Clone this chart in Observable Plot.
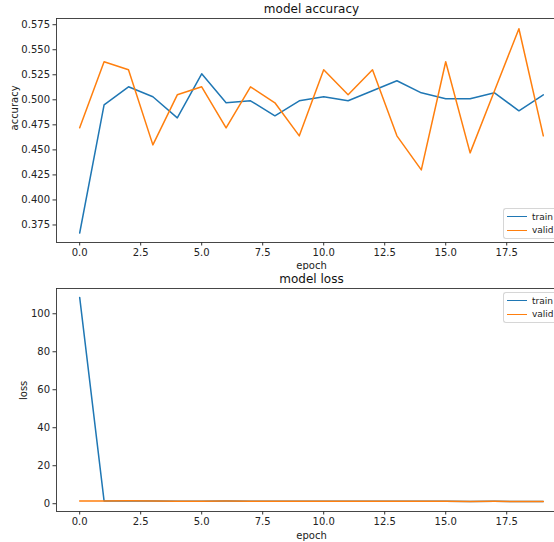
<!DOCTYPE html>
<html>
<head>
<meta charset="utf-8">
<script src="https://cdn.jsdelivr.net/npm/d3@7"></script>
<script src="https://cdn.jsdelivr.net/npm/@observablehq/plot@0.6"></script>
<style>
  html, body { margin: 0; padding: 0; background: #fff; overflow: hidden; }
  #wrap { position: relative; width: 554px; height: 542px; overflow: hidden; font-family: "DejaVu Sans", sans-serif; }
  #wrap svg.panel { position: absolute; left: 0; max-width: none !important; width: 580px !important; }
  .legend { position: absolute; background: rgba(255,255,255,0.8); border: 1px solid #d6d6d6; border-right: none; border-radius: 3px 0 0 3px; font-size: 9px; color: #222; padding: 1px 0 1px 2px; width: 51px; box-sizing: border-box; white-space: nowrap; }
  .legend .row { display: flex; align-items: center; height: 13.5px; }
  .legend .sw { width: 20px; height: 0; border-top: 1.5px solid; margin: 0 5px 0 1px; flex: none; }
</style>
</head>
<body>
<div id="wrap"></div>
<script>
const epochs = d3.range(0, 20);
const seriesNames = ["train", "valid"];
const colors = ["#1f77b4", "#ff7f0e"];
const accTrain = [0.367, 0.495, 0.513, 0.503, 0.482, 0.526, 0.497, 0.499, 0.484, 0.499,
                  0.503, 0.499, 0.509, 0.519, 0.507, 0.501, 0.501, 0.507, 0.489, 0.505];
const accValid = [0.472, 0.538, 0.530, 0.455, 0.505, 0.513, 0.472, 0.513, 0.497, 0.464,
                  0.530, 0.505, 0.530, 0.464, 0.430, 0.538, 0.447, 0.509, 0.571, 0.464];
const lossTrain = [108.6, 1.48, 1.49, 1.42, 1.36, 1.33, 1.39, 1.33, 1.31, 1.30,
                   1.27, 1.26, 1.26, 1.26, 1.29, 1.25, 1.22, 1.24, 1.20, 1.20];
const lossValid = [1.45, 1.46, 1.50, 1.42, 1.36, 1.32, 1.40, 1.33, 1.31, 1.30,
                   1.27, 1.26, 1.26, 1.26, 1.29, 1.25, 1.22, 1.24, 1.20, 1.20];
const xTicks = [0, 2.5, 5, 7.5, 10, 12.5, 15, 17.5];
const accTicks = [0.375, 0.4, 0.425, 0.45, 0.475, 0.5, 0.525, 0.55, 0.575];
const lossTicks = [0, 20, 40, 60, 80, 100];
const titles = ["model accuracy", "model loss"];
const xLabel = "epoch";
const yLabels = ["accuracy", "loss"];

function rows(a, b) {
  return [
    ...epochs.map((e, i) => ({epoch: e, value: a[i], series: seriesNames[0]})),
    ...epochs.map((e, i) => ({epoch: e, value: b[i], series: seriesNames[1]}))
  ];
}

function panel({data, yDomain, yTicks, yFormat, title, yLabel, height, marginBottom, yLabelDx, xLabelDy}) {
  return Plot.plot({
    width: 580,
    height,
    marginLeft: 56,
    marginRight: 14,
    marginTop: 18,
    marginBottom,
    style: {fontFamily: "DejaVu Sans, sans-serif", fontSize: "10px", color: "#222", background: "#fff"},
    x: {domain: [-0.95, 19.95], ticks: xTicks, tickFormat: ".1f", label: null},
    y: {domain: yDomain, ticks: yTicks, tickFormat: yFormat, label: null},
    color: {domain: seriesNames, range: colors},
    marks: [
      Plot.line(data, {x: "epoch", y: "value", z: "series", stroke: "series", strokeWidth: 1.5}),
      Plot.frame({stroke: "#333", strokeWidth: 0.9}),
      Plot.axisX({ticks: xTicks, tickFormat: ".1f", tickSize: 3.5, tickPadding: 3, label: null, stroke: "#333", fill: "#222"}),
      Plot.axisY({ticks: yTicks, tickFormat: yFormat, tickSize: 3.5, tickPadding: 3, label: null, stroke: "#333", fill: "#222"}),
      Plot.text([title], {text: d => d, frameAnchor: "top", dy: -9, fontSize: 12, fill: "#111", lineAnchor: "middle"}),
      Plot.text([xLabel], {text: d => d, frameAnchor: "bottom", dy: xLabelDy, fontSize: 10, fill: "#222", lineAnchor: "middle"}),
      Plot.text([yLabel], {text: d => d, frameAnchor: "left", dx: yLabelDx, rotate: -90, fontSize: 10, fill: "#222", lineAnchor: "middle"})
    ]
  });
}

const wrap = document.getElementById("wrap");

const top1 = panel({
  data: rows(accTrain, accValid),
  yDomain: [0.3575, 0.5812],
  yTicks: accTicks,
  yFormat: ".3f",
  title: titles[0],
  yLabel: yLabels[0],
  height: 270,
  marginBottom: 28,
  yLabelDx: -42,
  xLabelDy: 23
});
top1.classList.add("panel");
top1.style.top = "0px";
wrap.appendChild(top1);

const bot = panel({
  data: rows(lossTrain, lossValid),
  yDomain: [-4.1, 113.3],
  yTicks: lossTicks,
  yFormat: "d",
  title: titles[1],
  yLabel: yLabels[1],
  height: 272,
  marginBottom: 31,
  yLabelDx: -33,
  xLabelDy: 24
});
bot.classList.add("panel");
bot.style.top = "270px";
wrap.appendChild(bot);

function legend(top) {
  const div = document.createElement("div");
  div.className = "legend";
  div.style.left = "503px";
  div.style.top = top + "px";
  seriesNames.forEach((n, i) => {
    const r = document.createElement("div");
    r.className = "row";
    const sw = document.createElement("span");
    sw.className = "sw";
    sw.style.borderTopColor = colors[i];
    const t = document.createElement("span");
    t.textContent = n;
    r.appendChild(sw);
    r.appendChild(t);
    div.appendChild(r);
  });
  wrap.appendChild(div);
}
legend(208);
legend(292);
</script>
</body>
</html>
